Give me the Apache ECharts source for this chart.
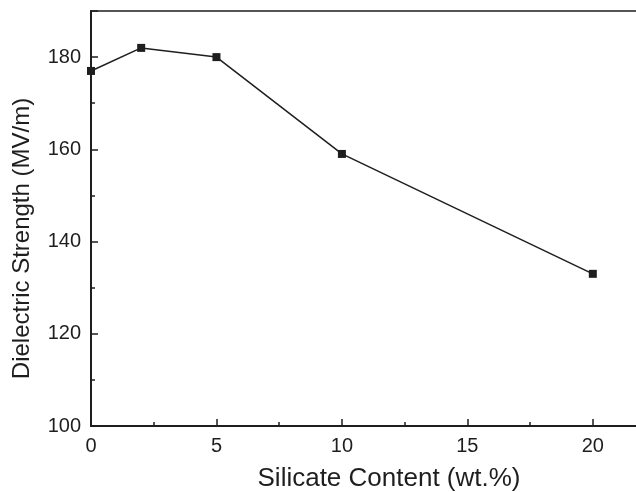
<!DOCTYPE html>
<html>
<head>
<meta charset="utf-8">
<script src="https://cdn.jsdelivr.net/npm/echarts@6/dist/echarts.min.js"></script>
<style>
html,body{margin:0;padding:0;background:#fff;}
#chart{width:636px;height:492px;}
</style>
</head>
<body>
<div id="chart"></div>
<script>
const silicateContent = [0, 2, 5, 10, 20];
const dielectricStrength = [177, 182, 180, 159, 133];
const xTitle = 'Silicate Content (wt.%)';
const yTitle = 'Dielectric Strength (MV/m)';

const chart = echarts.init(document.getElementById('chart'), null, {renderer: 'canvas'});
const ink = '#1e1e1e';
const font = 'Liberation Sans, Arial, sans-serif';
chart.setOption({
  animation: false,
  backgroundColor: '#fff',
  grid: {left: 91, top: 11, right: -7, bottom: 66, outerBoundsMode: 'none', containLabel: false,
    show: true, borderColor: ink, borderWidth: 1.5, backgroundColor: 'transparent'},
  xAxis: {
    type: 'value', min: 0, max: 22, interval: 5,
    name: xTitle, nameLocation: 'middle', nameGap: 40,
    nameTextStyle: {fontFamily: font, fontSize: 26, color: ink, padding: [0, 0, 0, 44]},
    axisLine: {show: true, onZero: false, lineStyle: {color: ink, width: 2}},
    axisTick: {show: true, inside: true, length: 7, lineStyle: {color: ink, width: 1.5}},
    minorTick: {show: true, splitNumber: 2, length: 4, lineStyle: {color: ink, width: 1.5}},
    splitLine: {show: false},
    axisLabel: {fontFamily: font, fontSize: 20, color: ink, margin: 10,
      formatter: v => (v % 5 === 0 && v <= 20) ? String(v) : ''}
  },
  yAxis: {
    type: 'value', min: 100, max: 190, interval: 20,
    name: yTitle, nameLocation: 'middle', nameGap: 57,
    nameTextStyle: {fontFamily: font, fontSize: 24, color: ink, padding: [0, 40, 0, 0]},
    axisLine: {show: true, onZero: false, lineStyle: {color: ink, width: 2}},
    axisTick: {show: true, inside: true, length: 7, lineStyle: {color: ink, width: 1.5}},
    minorTick: {show: true, splitNumber: 2, length: 4, lineStyle: {color: ink, width: 1.5}},
    splitLine: {show: false},
    axisLabel: {fontFamily: font, fontSize: 20, color: ink, margin: 10,
      formatter: v => (v % 20 === 0 && v <= 180) ? String(v) : ''}
  },
  series: [{
    type: 'line',
    data: silicateContent.map((x, i) => [x, dielectricStrength[i]]),
    symbol: 'rect', symbolSize: 8,
    lineStyle: {color: ink, width: 1.5},
    itemStyle: {color: ink},
    clip: false
  }]
});
</script>
</body>
</html>
